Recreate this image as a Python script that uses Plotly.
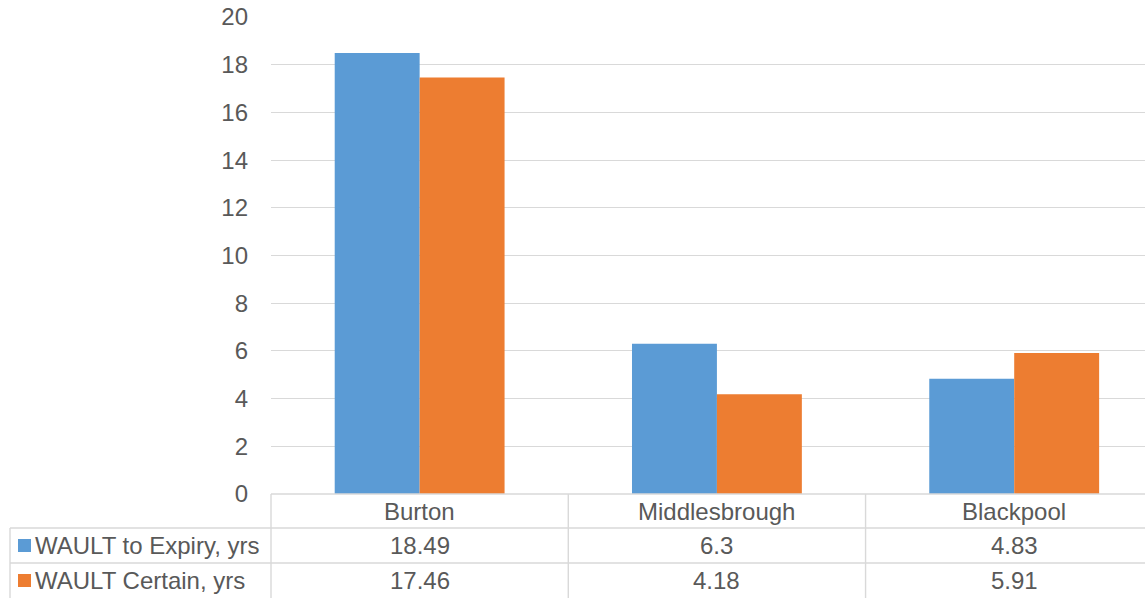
import plotly.graph_objects as go

# Data
categories = ["Burton", "Middlesbrough", "Blackpool"]
series_names = ["WAULT to Expiry, yrs", "WAULT Certain, yrs"]
wault_expiry = [18.49, 6.3, 4.83]
wault_certain = [17.46, 4.18, 5.91]
value_labels = [["18.49", "6.3", "4.83"], ["17.46", "4.18", "5.91"]]
y_ticks = [0, 2, 4, 6, 8, 10, 12, 14, 16, 18, 20]

colors = ["#5B9BD5", "#ED7D31"]
text_color = "#595959"
grid_color = "#D9D9D9"
font_family = "Liberation Sans, Arial, sans-serif"
font_size = 24

W, H = 1145, 598
ML, MR, MT, MB = 271, 0, 17, 104
plot_w = W - ML - MR
plot_h = H - MT - MB


def px_x(px):
    return (px - ML) / plot_w


def px_y(py):
    return (H - MB - py) / plot_h


x_idx = list(range(len(categories)))

fig = go.Figure()
for name, vals, col in zip(series_names, [wault_expiry, wault_certain], colors):
    fig.add_trace(go.Bar(x=x_idx, y=vals, name=name, marker=dict(color=col, line=dict(width=0)),
                         showlegend=False))

shapes = []
annotations = []
line_style = dict(color=grid_color, width=1.4)

# Data table rows (pixel boundaries below the plot)
row_tops = [H - MB, 528, 563, H]
row_centers = [(row_tops[i] + row_tops[i + 1]) / 2 for i in range(3)]

# Horizontal table lines
shapes.append(dict(type="line", xref="paper", yref="paper", x0=0, x1=1,
                   y0=px_y(row_tops[0]), y1=px_y(row_tops[0]), line=line_style))
for py in row_tops[1:3]:
    shapes.append(dict(type="line", xref="paper", yref="paper", x0=px_x(10), x1=1,
                       y0=px_y(py), y1=px_y(py), line=line_style))

# Vertical table lines
shapes.append(dict(type="line", xref="paper", yref="paper", x0=px_x(10), x1=px_x(10),
                   y0=px_y(row_tops[1]), y1=px_y(H), line=line_style))
shapes.append(dict(type="line", xref="paper", yref="paper", x0=0, x1=0,
                   y0=px_y(row_tops[0]), y1=px_y(H), line=line_style))
for xb in [0.5, 1.5]:
    shapes.append(dict(type="line", xref="x", yref="paper", x0=xb, x1=xb,
                       y0=px_y(row_tops[0]), y1=px_y(H), line=line_style))

tfont = dict(family=font_family, size=font_size, color=text_color)

# Category header row
for i, cat in enumerate(categories):
    annotations.append(dict(x=i, y=px_y(row_centers[0]), xref="x", yref="paper", text=cat,
                            showarrow=False, font=tfont, xanchor="center", yanchor="middle"))

# Value rows with legend keys
for r, (name, labels, col) in enumerate(zip(series_names, value_labels, colors)):
    cy = row_centers[r + 1]
    shapes.append(dict(type="rect", xref="paper", yref="paper", x0=px_x(18), x1=px_x(31),
                       y0=px_y(cy + 6.5), y1=px_y(cy - 6.5), fillcolor=col, line=dict(width=0)))
    annotations.append(dict(x=px_x(33), y=px_y(cy), xref="paper", yref="paper", text=name,
                            showarrow=False, font=tfont, xanchor="left", yanchor="middle"))
    for i, lab in enumerate(labels):
        annotations.append(dict(x=i, y=px_y(cy), xref="x", yref="paper", text=lab,
                                showarrow=False, font=tfont, xanchor="center", yanchor="middle"))

fig.update_layout(
    width=W, height=H,
    margin=dict(l=ML, r=MR, t=MT, b=MB, pad=0),
    paper_bgcolor="white", plot_bgcolor="white",
    barmode="group", bargap=0.4286, bargroupgap=0,
    font=dict(family=font_family, size=font_size, color=text_color),
    xaxis=dict(range=[-0.5, 2.44], showticklabels=False, showgrid=False, zeroline=False,
               showline=False, ticks=""),
    yaxis=dict(range=[0, 20], tickvals=y_ticks, showgrid=True, gridcolor=grid_color, gridwidth=1.4,
               zeroline=False, showline=False, ticks="", ticklabelstandoff=22,
               tickfont=dict(family=font_family, size=font_size, color=text_color)),
    shapes=shapes,
    annotations=annotations,
)

fig.write_html("out.html")
